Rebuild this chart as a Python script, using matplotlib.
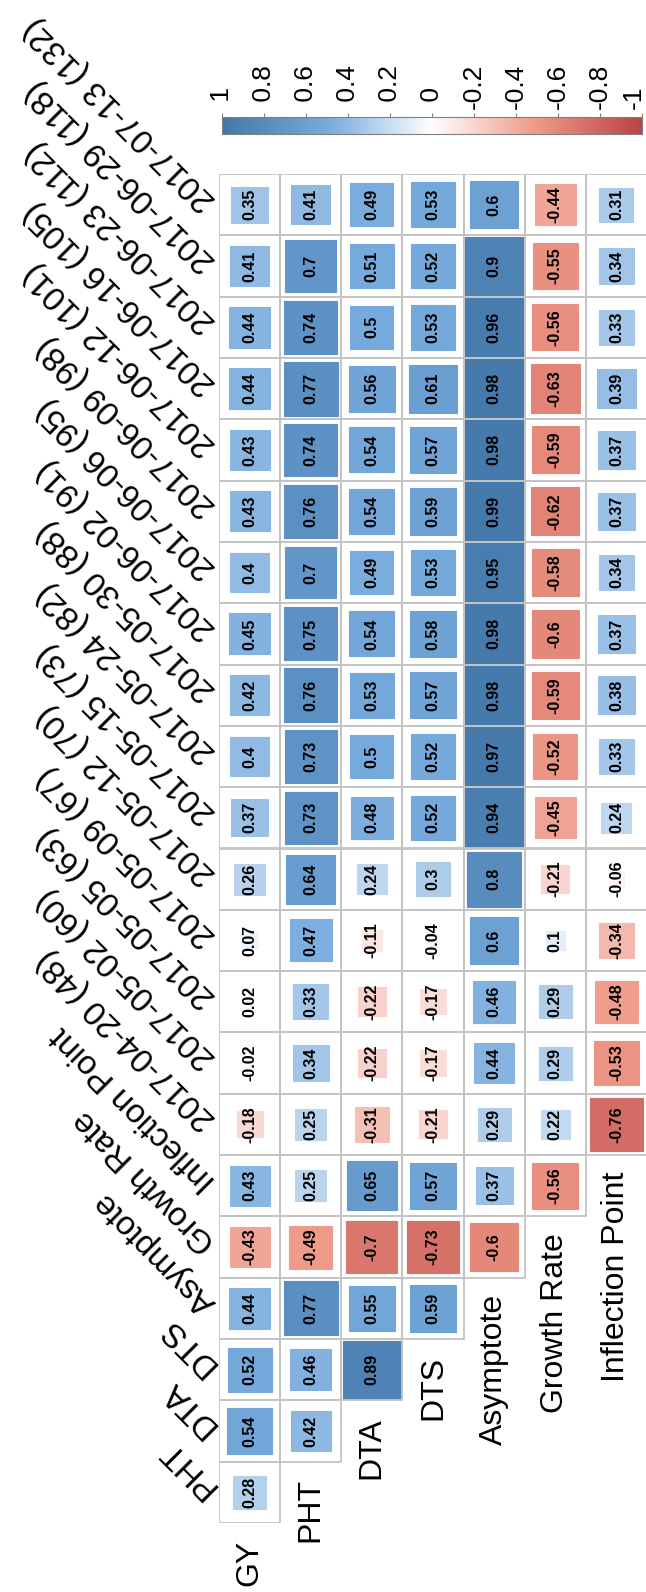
import numpy as np
import matplotlib
matplotlib.use("Agg")
import matplotlib.pyplot as plt
import matplotlib.transforms as mtransforms
from matplotlib.colors import LinearSegmentedColormap
from matplotlib.patches import Rectangle

plt.rcParams['font.family'] = ['Liberation Sans', 'DejaVu Sans']

# variables (one column each) and the targets they are correlated with (rows, bottom to top)
variables = ["GY", "PHT", "DTA", "DTS", "Asymptote", "Growth Rate", "Inflection Point"]
dates = ["2017-04-20 (48)", "2017-05-02 (60)", "2017-05-05 (63)", "2017-05-09 (67)",
         "2017-05-12 (70)", "2017-05-15 (73)", "2017-05-24 (82)", "2017-05-30 (88)",
         "2017-06-02 (91)", "2017-06-06 (95)", "2017-06-09 (98)", "2017-06-12 (101)",
         "2017-06-16 (105)", "2017-06-23 (112)", "2017-06-29 (118)", "2017-07-13 (132)"]
targets = variables[1:] + dates

# correlations, starting from the first target after the variable itself
gy = [0.28, 0.54, 0.52, 0.44, -0.43, 0.43, -0.18, -0.02, 0.02, 0.07, 0.26,
      0.37, 0.4, 0.42, 0.45, 0.4, 0.43, 0.43, 0.44, 0.44, 0.41, 0.35]
pht = [0.42, 0.46, 0.77, -0.49, 0.25, 0.25, 0.34, 0.33, 0.47, 0.64, 0.73,
       0.73, 0.76, 0.75, 0.7, 0.76, 0.74, 0.77, 0.74, 0.7, 0.41]
dta = [0.89, 0.55, -0.7, 0.65, -0.31, -0.22, -0.22, -0.11, 0.24, 0.48,
       0.5, 0.53, 0.54, 0.49, 0.54, 0.54, 0.56, 0.5, 0.51, 0.49]
dts = [0.59, -0.73, 0.57, -0.21, -0.17, -0.17, -0.04, 0.3, 0.52, 0.52,
       0.57, 0.58, 0.53, 0.59, 0.57, 0.61, 0.53, 0.52, 0.53]
asymptote = [-0.6, 0.37, 0.29, 0.44, 0.46, 0.6, 0.8, 0.94, 0.97, 0.98,
             0.98, 0.95, 0.99, 0.98, 0.98, 0.96, 0.9, 0.6]
growth_rate = [-0.56, 0.22, 0.29, 0.29, 0.1, -0.21, -0.45, -0.52, -0.59,
               -0.6, -0.58, -0.62, -0.59, -0.63, -0.56, -0.55, -0.44]
inflection_point = [-0.76, -0.53, -0.48, -0.34, -0.06, 0.24, 0.33, 0.38,
                    0.37, 0.34, 0.37, 0.37, 0.39, 0.33, 0.34, 0.31]
corr_cols = [gy, pht, dta, dts, asymptote, growth_rate, inflection_point]

cbar_ticks = [1, 0.8, 0.6, 0.4, 0.2, 0, -0.2, -0.4, -0.6, -0.8, -1]

cmap = LinearSegmentedColormap.from_list(
    "corr", ["#BB4444", "#EE9988", "#FFFFFF", "#77AADD", "#4477AA"])

W, H = 646, 1592
fig = plt.figure(figsize=(W / 100, H / 100), dpi=100)

n_var, n_tgt = len(variables), len(targets)
ax = fig.add_axes([219 / W, 1 - 1523 / H, 428 / W, 1349 / H])
ax.set_xlim(0, n_var)
ax.set_ylim(0, n_tgt)
ax.axis('off')

for c, vals in enumerate(corr_cols):
    for i, r in enumerate(vals):
        k = c + i
        side = np.sqrt(abs(r))
        col = cmap((r + 1) / 2)
        ax.add_patch(Rectangle((c + 0.5 - side / 2, k + 0.5 - side / 2), side, side,
                               facecolor=col, edgecolor=col, lw=0.8, zorder=1))
        ax.add_patch(Rectangle((c, k), 1, 1, fill=False, edgecolor='#c4c4c4',
                               lw=1.3, zorder=2))
        ax.text(c + 0.5, k + 0.5, f"{r:g}", rotation=90, ha='center', va='center',
                fontsize=11.5, fontweight='bold', zorder=3)

# variable names under the diagonal
for c, name in enumerate(variables):
    ax.text(c + 0.5, c - 0.27, name, rotation=90, rotation_mode='anchor',
            ha='right', va='center', fontsize=23, clip_on=False)

# target names along the left edge, slanted
for k, name in enumerate(targets):
    ax.text(-0.13, k + 0.5, name, rotation=135, rotation_mode='anchor',
            ha='left', va='center', fontsize=24, clip_on=False)

# colour legend
cax = fig.add_axes([222 / W, 1 - 134 / H, 420 / W, 17 / H])
grad = np.linspace(-1, 1, 256).reshape(1, -1)
cax.imshow(grad, cmap=cmap, aspect='auto', extent=(-1, 1, 0, 1), vmin=-1, vmax=1)
cax.set_xlim(1, -1)
cax.set_yticks([])
cax.xaxis.tick_top()
cax.set_xticks(cbar_ticks)
cax.set_xticklabels([])
cax.tick_params(axis='x', length=3, width=0.8, color='#808080')
for s in cax.spines.values():
    s.set_edgecolor('#808080')
    s.set_linewidth(0.8)

# legend labels start just above the bar; positives padded like the minus sign
lab_trans = cax.get_xaxis_transform()
for t in cbar_ticks:
    txt = f"{t:g}" if t < 0 else " " + f"{t:g}"
    trans = lab_trans
    if t == cbar_ticks[-1]:
        trans = mtransforms.offset_copy(lab_trans, fig=fig, x=-8, y=0, units='dots')
    cax.text(t, 1.45, txt, transform=trans, rotation=90, rotation_mode='anchor',
             ha='left', va='center', fontsize=19, clip_on=False)

fig.savefig("out.png", dpi=100)
